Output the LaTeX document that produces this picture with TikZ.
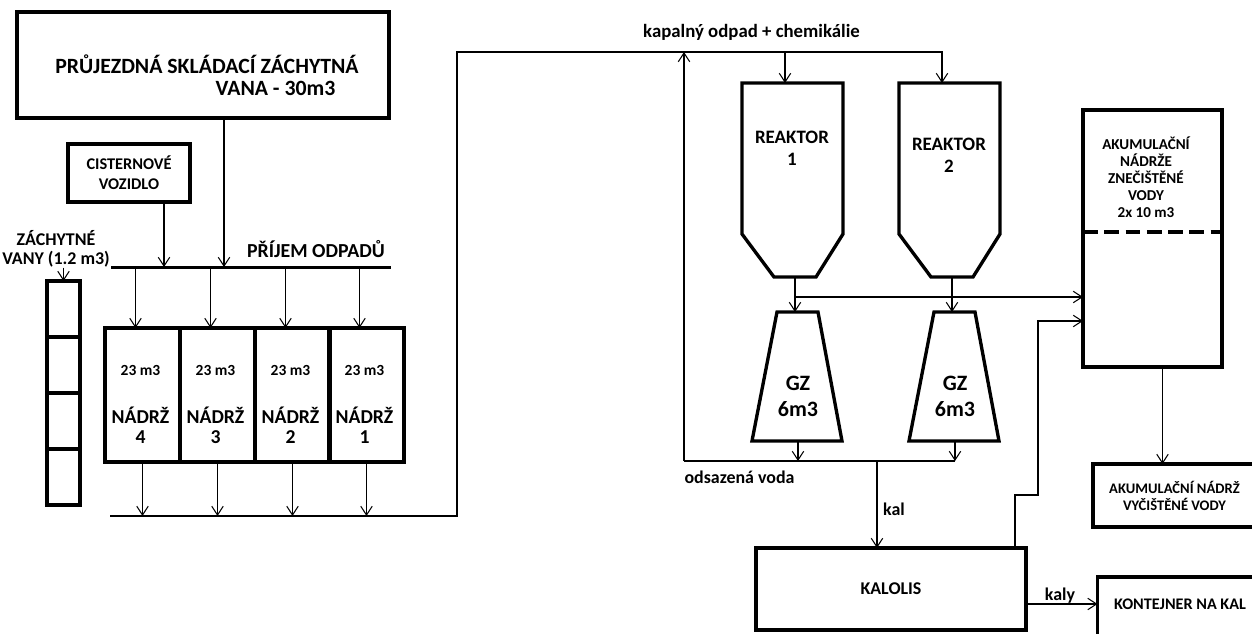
\documentclass[tikz,border=0pt]{standalone}
\usepackage{fontspec}
\setmainfont{Carlito}
\usepackage{tikz}
\usetikzlibrary{arrows.meta,calc,positioning}

\begin{document}
\begin{tikzpicture}[x=0.02cm,y=-0.02cm,font=\bfseries\fontsize{10.2}{11.3}\selectfont,
  box/.style={draw,line width=1.9pt,inner sep=0pt,outer sep=0pt,align=center},
  zvana/.style={box,minimum width=0.66cm,minimum height=1.12cm},
  txt/.style={inner sep=0pt,align=center},
  pipe/.style={line width=0.6pt},
  flow/.style={pipe,-{Straight Barb[length=5pt,width=6.5pt]}}]
\newcommand{\nadrz}[3]{%
  \node[box,minimum width=1.5cm,minimum height=2.68cm] (#1) at (#2,395) {};
  \node[txt,font=\bfseries\fontsize{8.8}{10}\selectfont] (#1-obj) at (#2-2,370) {23 m3};
  \node[txt,font=\bfseries\fontsize{11.2}{11.2}\selectfont] (#1-nazev) at (#2-2,425) {NÁDRŽ\\#3};
  \draw[flow] ([xshift=-0.14cm]#1.north |- prijem-l) -- ([xshift=-0.14cm]#1.north);
  \draw[flow] (#1.south) -- (#1.south |- sber);
}
\newcommand{\reaktor}[4]{%
  \begin{scope}[shift={(#2,0)}]
    \draw[line width=1.9pt] (-50,83) -- (51,83) -- (51,234) -- (24,277) -- (-18,277) -- (-50,234) -- cycle;
    \coordinate (#1-in) at (-7,83);
    \coordinate (#1-out) at (3,277);
    \node[txt,font=\bfseries\fontsize{10.8}{12.5}\selectfont] (#1-txt) at (0,#4) {REAKTOR\\#3};
  \end{scope}
}
\newcommand{\zahustovac}[2]{%
  \begin{scope}[shift={(#2,0)}]
    \draw[line width=1.9pt] (-20,312) -- (21,312) -- (45,441) -- (-45,441) -- cycle;
    \coordinate (#1-top) at (0,312);
    \coordinate (#1-out) at (1,441);
    \node[txt,font=\bfseries\fontsize{12.5}{14.7}\selectfont] (#1-txt) at (1,396) {GZ\\6m3};
  \end{scope}
}
\useasboundingbox (0,0) rectangle (1252,633);
\clip (0,0) rectangle (1252,633);

\coordinate (prijem-l) at (111,267);
\coordinate (prijem-r) at (391,267);
\coordinate (sber) at (110,516);
\coordinate (stoupacka) at (457,52);
\coordinate (ods) at (684,461);
\coordinate (kal-odb) at (877,461);
\coordinate (obtok) at (1038,495);

\node[box,minimum width=7.44cm,minimum height=2.12cm] (vana) at (203,65) {};
\node[txt,font=\bfseries\fontsize{12.4}{12.6}\selectfont] (vana-txt) at (207,75) {PRŮJEZDNÁ SKLÁDACÍ ZÁCHYTNÁ\\\hspace*{78pt}VANA - 30m3};
\node[box,minimum width=2.44cm,minimum height=1.16cm,font=\bfseries\fontsize{9.3}{11.3}\selectfont] (cisterna) at (129,173) {CISTERNOVÉ\\VOZIDLO};

\draw[line width=1.7pt] (prijem-l) -- (prijem-r);
\node[txt,font=\bfseries\fontsize{11.3}{12}\selectfont] (prijem) at (316,249) {PŘÍJEM ODPADŮ};
\draw[flow] ([xshift=0.7cm]cisterna.south) -- ([xshift=0.7cm]cisterna.south |- prijem-l);
\draw[flow] ([xshift=0.42cm]vana.south) -- ([xshift=0.42cm]vana.south |- prijem-l);

\node[txt,font=\bfseries\fontsize{10.2}{10.6}\selectfont] (zachytne) at (56,249) {ZÁCHYTNÉ\\VANY (1.2 m3)};
\node[zvana] (zv1) at (63.5,309) {};
\node[zvana,below=0pt of zv1] (zv2) {};
\node[zvana,below=0pt of zv2] (zv3) {};
\node[zvana,below=0pt of zv3] (zv4) {};
\draw[flow] (zachytne.south -| zv1.north) -- (zv1.north);

\nadrz{n4}{142.5}{4}
\nadrz{n3}{217.5}{3}
\nadrz{n2}{292.5}{2}
\nadrz{n1}{366.5}{1}

\reaktor{r1}{792}{1}{148}
\reaktor{r2}{949}{2}{155}
\zahustovac{gz1}{797}
\zahustovac{gz2}{954}

\draw[flow] (sber) -- (sber -| stoupacka) -- (stoupacka) -| (r2-in);
\draw[flow] (stoupacka -| r1-in) -- (r1-in);
\node[txt,font=\bfseries\fontsize{10.7}{12}\selectfont] (kapalny) at (751.5,32) {kapalný odpad + chemikálie};

\node[box,minimum width=2.78cm,minimum height=5.14cm] (akum) at (1152.5,238.5) {};
\draw[line width=1.9pt,dash pattern=on 8.5pt off 3.6pt] ([yshift=0.13cm]akum.west) -- ([yshift=0.13cm]akum.east);
\node[txt,font=\bfseries\fontsize{8.6}{9.6}\selectfont] (akum-txt) at (1146,177) {AKUMULAČNÍ\\NÁDRŽE\\ZNEČIŠTĚNÉ\\VODY\\2x 10 m3};

\draw[flow] (r1-out) -- (r1-out |- gz1-top);
\draw[flow] (r2-out) -- (r2-out |- gz2-top);
\coordinate (odbocka) at ($(r1-out)+(0,20)$);
\draw[flow] (odbocka) -- (odbocka -| akum.west);

\draw[flow] (gz1-out) -- (gz1-out |- ods);
\draw[flow] (gz2-out) -- (gz2-out |- ods);
\draw[pipe] (ods) -- (ods -| gz2-out);
\draw[flow] (ods) -- (ods |- stoupacka);
\node[txt] (odsazena) at (739.5,477) {odsazená voda};

\node[box,minimum width=5.4cm,minimum height=1.64cm] (kalolis) at (891,589) {KALOLIS};
\draw[flow] (kal-odb) -- (kal-odb |- kalolis.north);
\node[txt] (kal-txt) at (894,509) {kal};
\draw[flow] ([xshift=-0.22cm]kalolis.north east) |- (obtok) |- ([yshift=-1.65cm]akum.west);

\node[box,minimum width=3.26cm,minimum height=1.26cm,font=\bfseries\fontsize{8.3}{9.6}\selectfont] (cista) at (1174.5,495.5) {AKUMULAČNÍ NÁDRŽ\\VYČIŠTĚNÉ VODY};
\draw[flow] ([xshift=0.2cm]akum.south) -- ([xshift=0.2cm]akum.south |- cista.north);

\node[box,minimum width=3.3cm,minimum height=1.5cm] (kontejner) at (1180,614.5) {};
\node[txt,font=\bfseries\fontsize{9.2}{11}\selectfont] (kontejner-txt) at (1180,604) {KONTEJNER NA KAL};
\draw[flow] (kalolis.east |- kontejner-txt) -- (kontejner.west |- kontejner-txt);
\node[txt] (kaly) at (1060,596) {kaly};
\end{tikzpicture}
\end{document}
